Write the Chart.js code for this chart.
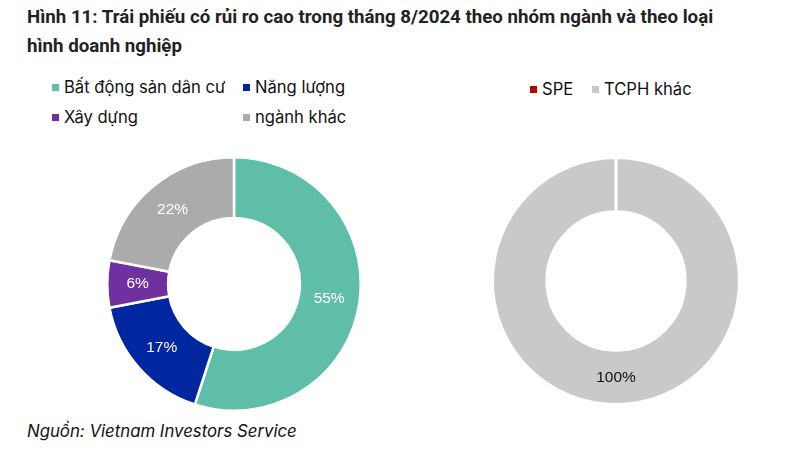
<!DOCTYPE html>
<html>
<head>
<meta charset="utf-8">
<script src="https://cdn.jsdelivr.net/npm/chart.js@4/dist/chart.umd.min.js"></script>
<style>
  html, body { margin: 0; padding: 0; background: #fff; }
  body { width: 792px; height: 463px; position: relative; overflow: hidden;
         font-family: "Roboto", sans-serif; color: #222; }
  .title { position: absolute; left: 27px; top: 3px; width: 770px; font-size: 18.7px; font-weight: bold;
           line-height: 29px; color: #222; white-space: nowrap; }
  .legend { position: absolute; font-family: "Inter", "Roboto", sans-serif; font-size: 16.6px; color: #111; }
  .legend .item { position: absolute; white-space: nowrap; line-height: 20px; }
  .legend .box { display: inline-block; width: 7px; height: 7px; margin-right: 5px; vertical-align: 2px; }
  .source { position: absolute; left: 27px; top: 421px; font-family: "Inter", "Roboto", sans-serif;
            font-size: 16.8px; font-style: italic; color: #111; }
  canvas { position: absolute; }
</style>
</head>
<body>
<div class="title">Hình 11: Trái phiếu có rủi ro cao trong tháng 8/2024 theo nhóm ngành và theo loại<br>hình doanh nghiệp</div>
<div class="legend" id="legendLeft"></div>
<div class="legend" id="legendRight"></div>
<div id="wrapLeft"><canvas id="chartSector" width="256" height="256" style="left:106px;top:156px;width:256px;height:256px"></canvas></div>
<div id="wrapRight"><canvas id="chartIssuer" width="250" height="250" style="left:491px;top:156px;width:250px;height:250px"></canvas></div>
<div class="source">Nguồn: Vietnam Investors Service</div>
<script>
'use strict';

// Nhom nganh
const sectorLabels = ['Bất động sản dân cư', 'Năng lượng', 'Xây dựng', 'ngành khác'];
const sectorValues = [55, 17, 6, 22];
const sectorColors = ['#5FBEA7', '#0026A0', '#7030A0', '#ABABAB'];

// Loai hinh doanh nghiep
const issuerLabels = ['SPE', 'TCPH khác'];
const issuerValues = [0, 100];
const issuerColors = ['#C00000', '#C8C9CA'];

// vi tri cac muc chu thich (x, y)
const legendLeftPos = [[52, 77], [243, 77], [52, 107], [243, 107]];
const legendRightPos = [[530, 79], [592, 79]];

function buildLegend(id, labels, colors, pos) {
  const el = document.getElementById(id);
  labels.forEach((lab, i) => {
    const it = document.createElement('div');
    it.className = 'item';
    it.style.left = pos[i][0] + 'px';
    it.style.top = pos[i][1] + 'px';
    it.innerHTML = '<span class="box" style="background:' + colors[i] + '"></span>' + lab;
    el.appendChild(it);
  });
}
buildLegend('legendLeft', sectorLabels, sectorColors, legendLeftPos);
buildLegend('legendRight', issuerLabels, issuerColors, legendRightPos);

// nhan phan tram tren tung cung
const pctLabels = {
  id: 'pctLabels',
  afterDatasetsDraw(chart, args, opts) {
    const { ctx } = chart;
    const meta = chart.getDatasetMeta(0);
    const vals = chart.data.datasets[0].data;
    ctx.save();
    ctx.font = '15.5px "Liberation Sans", Arial, sans-serif';
    ctx.fillStyle = opts.color || '#fff';
    ctx.textAlign = 'center';
    ctx.textBaseline = 'middle';
    meta.data.forEach((arc, i) => {
      if (!vals[i]) return;
      const p = arc.tooltipPosition();
      ctx.fillText(vals[i] + '%', p.x, p.y);
    });
    ctx.restore();
  }
};

new Chart(document.getElementById('chartSector'), {
  type: 'doughnut',
  data: {
    labels: sectorLabels,
    datasets: [{ data: sectorValues, backgroundColor: sectorColors, borderColor: '#fff', borderWidth: 2.5 }]
  },
  options: {
    responsive: false,
    animation: false,
    cutout: '52%',
    plugins: { legend: { display: false }, tooltip: { enabled: false }, pctLabels: { color: '#fff' } }
  },
  plugins: [pctLabels]
});

new Chart(document.getElementById('chartIssuer'), {
  type: 'doughnut',
  data: {
    labels: issuerLabels,
    datasets: [{ data: issuerValues, backgroundColor: issuerColors, borderColor: '#fff', borderWidth: 3 }]
  },
  options: {
    responsive: false,
    animation: false,
    cutout: '56%',
    plugins: { legend: { display: false }, tooltip: { enabled: false }, pctLabels: { color: '#111' } }
  },
  plugins: [pctLabels]
});
</script>
</body>
</html>
